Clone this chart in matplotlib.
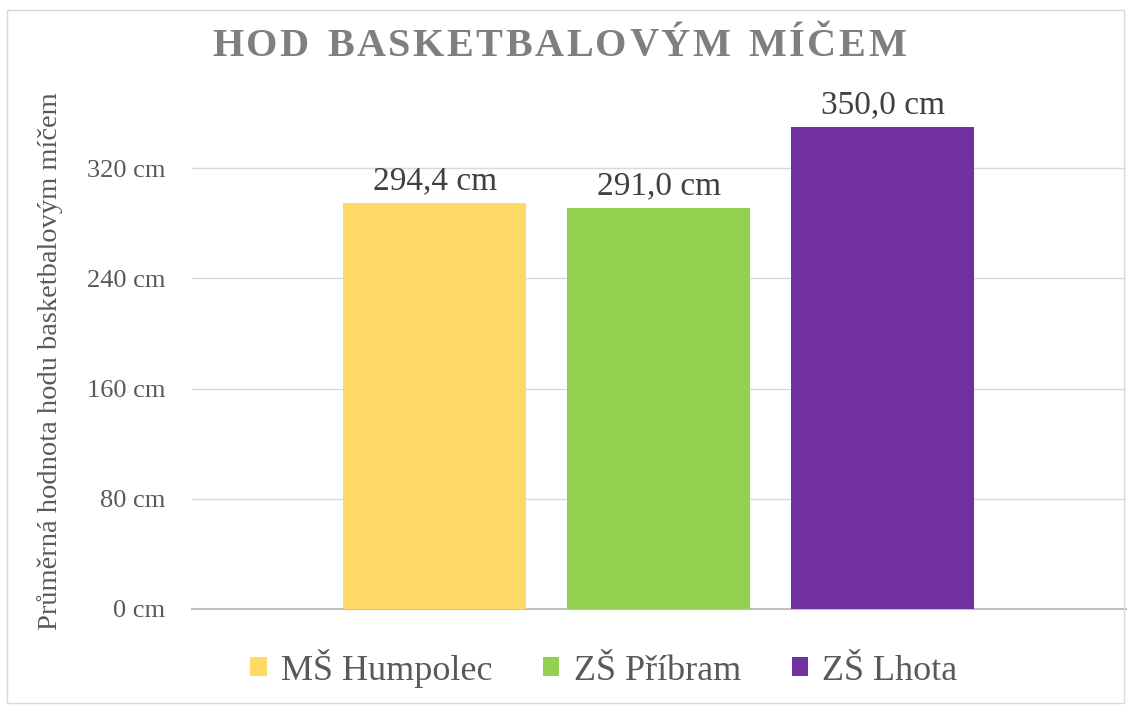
import matplotlib
matplotlib.use("Agg")
import matplotlib.pyplot as plt
from matplotlib.patches import Rectangle

# data
schools = ["MŠ Humpolec", "ZŠ Příbram", "ZŠ Lhota"]
values = [294.4, 291.0, 350.0]
colors = ["#FFD966", "#92D050", "#7030A0"]
yticks = [0, 80, 160, 240, 320]

TEXT = "#595959"
plt.rcParams["font.family"] = ["Liberation Serif", "DejaVu Serif"]

fig = plt.figure(figsize=(11.29, 7.06), dpi=100)
ax = fig.add_axes([0.170, 0.1374, 0.8273, 0.7026])

x = [0, 1, 2]
bars = []
for xi, v, c, name in zip(x, values, colors, schools):
    b = ax.bar(xi, v, width=0.817, color=c, label=name, zorder=3)
    bars.append(b)
    ax.text(xi, v + 5, f"{v:.1f} cm".replace(".", ","), ha="center", va="bottom",
            fontsize=24, color="#404040", zorder=4)

ax.set_xlim(1 - 2.085, 1 + 2.085)
ax.set_ylim(0, 360)
ax.set_yticks(yticks)
ax.set_yticklabels([f"{t} cm" for t in yticks], fontsize=19, color=TEXT)
ax.tick_params(axis="y", length=0, pad=19)
ax.set_xticks([])
for s in ["top", "right", "left"]:
    ax.spines[s].set_visible(False)
ax.spines["bottom"].set_color("#bfbfbf")
ax.spines["bottom"].set_linewidth(1.5)
ax.yaxis.grid(True, color="#d9d9d9", linewidth=1, zorder=0)
ax.set_axisbelow(True)

ax.set_ylabel("Průměrná hodnota hodu basketbalovým míčem", fontsize=20.5,
              color=TEXT)
ax.yaxis.set_label_coords(-0.138, 0.50)

# title with letter spacing: draw char by char
title = "HOD BASKETBALOVÝM MÍČEM"
fig.canvas.draw()
renderer = fig.canvas.get_renderer()
spacing = 2.5  # px between letters
tsize = 29
widths = []
for ch in title:
    t = fig.text(0, 0, ch if ch != " " else "n", fontsize=tsize, fontweight="bold")
    w = t.get_window_extent(renderer).width
    t.remove()
    widths.append(w * (0.6 if ch == " " else 1.0))
total = sum(widths) + spacing * (len(title) - 1)
xpos = 559 - total / 2
W, H = fig.bbox.width, fig.bbox.height
for ch, w in zip(title, widths):
    if ch != " ":
        fig.text(xpos / W, 1 - 46 / H, ch, fontsize=tsize, fontweight="bold",
                 color="#7f7f7f", ha="left", va="center")
    xpos += w + spacing

leg = fig.legend(handles=[b for b in bars], labels=schools, loc="center",
                 bbox_to_anchor=(0.535, 1 - 668 / 706), ncol=3, frameon=False,
                 fontsize=26, handlelength=0.45, handleheight=0.45,
                 handletextpad=0.4, columnspacing=1.4)
for t in leg.get_texts():
    t.set_color(TEXT)

fig.patches.append(Rectangle((0.006, 0.004), 0.99, 0.982, transform=fig.transFigure,
                             fill=False, edgecolor="#d9d9d9", linewidth=1))

fig.savefig("out.png", dpi=100)
